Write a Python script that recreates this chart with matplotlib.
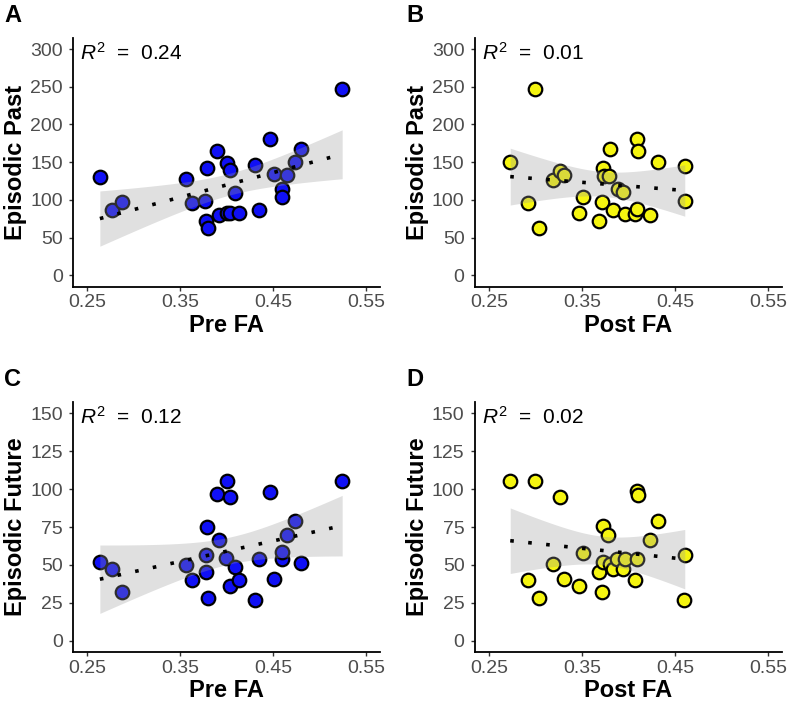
import numpy as np
import matplotlib
matplotlib.use('Agg')
import matplotlib.pyplot as plt

plt.rcParams['font.family'] = ['Liberation Sans', 'DejaVu Sans']
plt.rcParams['mathtext.fontset'] = 'custom'
plt.rcParams['mathtext.rm'] = 'Liberation Sans'
plt.rcParams['mathtext.it'] = 'Liberation Sans:italic'

#---------------------------data---------------------------

pre_fa_past = [0.2636, 0.2768, 0.2879, 0.3564, 0.3625, 0.3775, 0.3804, 0.3786, 0.3771,
               0.3900, 0.3914, 0.4000, 0.4000, 0.4036, 0.4036, 0.4086, 0.4136, 0.4307,
               0.4343, 0.4471, 0.4511, 0.4593, 0.4600, 0.4650, 0.4736, 0.4804, 0.5243]
past_pre = [130.5, 86.3, 97.3, 127.4, 96.0, 72.1, 63.3, 142.5, 98.7,
            164.6, 79.6, 149.6, 82.3, 139.4, 83.2, 109.7, 82.3, 146.0,
            86.3, 181.0, 134.0, 114.6, 104.0, 132.7, 150.0, 168.0, 247.0]

post_fa_past = [0.2729, 0.3000, 0.2918, 0.3036, 0.3186, 0.3264, 0.3311, 0.3507, 0.3464,
                0.3686, 0.3721, 0.3729, 0.3740, 0.3793, 0.3804, 0.3836, 0.3889, 0.3946,
                0.3961, 0.4068, 0.4089, 0.4096, 0.4107, 0.4229, 0.4321, 0.4607, 0.4607]
past_post = [150.0, 247.0, 96.5, 63.3, 127.0, 139.0, 133.6, 104.0, 82.7,
             72.1, 96.9, 142.5, 131.9, 132.3, 168.0, 87.2, 114.6, 110.2,
             81.9, 81.9, 87.6, 181.0, 164.6, 80.5, 150.9, 145.0, 98.2]

pre_fa_future = [0.2636, 0.2768, 0.2879, 0.3564, 0.3625, 0.3775, 0.3775, 0.3786, 0.3800,
                 0.3900, 0.3914, 0.3989, 0.4000, 0.4036, 0.4036, 0.4086, 0.4136, 0.4307,
                 0.4343, 0.4471, 0.4511, 0.4593, 0.4600, 0.4650, 0.4736, 0.4804, 0.5243]
future_pre = [51.8, 47.3, 32.1, 50.0, 40.3, 45.1, 56.6, 75.0, 27.9,
              96.5, 66.2, 54.4, 105.5, 95.1, 35.8, 48.5, 40.3, 27.0,
              54.2, 98.2, 40.7, 54.2, 58.8, 69.5, 79.0, 51.3, 105.5]

post_fa_future = [0.2729, 0.3000, 0.2918, 0.3036, 0.3264, 0.3186, 0.3304, 0.3471, 0.3507,
                  0.3686, 0.3721, 0.3729, 0.3782, 0.3732, 0.3804, 0.3836, 0.3882, 0.3946,
                  0.3961, 0.4068, 0.4089, 0.4096, 0.4107, 0.4229, 0.4321, 0.4607, 0.4600]
future_post = [105.3, 105.3, 39.8, 28.1, 95.1, 50.7, 40.9, 36.3, 58.0,
               45.4, 32.1, 75.7, 69.7, 52.0, 50.7, 47.3, 54.0, 47.6,
               54.2, 40.3, 54.0, 98.9, 96.0, 66.6, 78.8, 56.2, 27.0]

panel_letters = ['A', 'B', 'C', 'D']
r2_labels = ['0.24', '0.01', '0.12', '0.02']
x_titles = ['Pre FA', 'Post FA', 'Pre FA', 'Post FA']
y_titles = ['Episodic Past', 'Episodic Past', 'Episodic Future', 'Episodic Future']
x_ticks = [0.25, 0.35, 0.45, 0.55]
y_ticks_past = [0, 50, 100, 150, 200, 250, 300]
y_ticks_future = [0, 25, 50, 75, 100, 125, 150]

#---------------------------linear fit with 95% band----------------------------

def lm_band(x, y, t975=2.0595):     # t quantile for n-2 = 25 df
    x = np.asarray(x)
    y = np.asarray(y)
    n = len(x)
    b, a = np.polyfit(x, y, 1)
    xs = np.linspace(x.min(), x.max(), 80)
    res = y - (a + b * x)
    s2 = np.sum(res**2) / (n - 2)
    sxx = np.sum((x - x.mean())**2)
    se = np.sqrt(s2 * (1.0 / n + (xs - x.mean())**2 / sxx))
    fit = a + b * xs
    return xs, fit, fit - t975 * se, fit + t975 * se

#---------------------------figure----------------------------------------------

W, H = 789, 706
fig = plt.figure(figsize=(W / 100, H / 100), dpi=100)

lefts = [73.3, 475.0, 73.3, 475.0]
tops = [37.7, 37.7, 402.0, 402.0]
bottoms = [286.7, 286.7, 652.0, 652.0]
ax_w = 306.7

xs_all = [pre_fa_past, post_fa_past, pre_fa_future, post_fa_future]
ys_all = [past_pre, past_post, future_pre, future_post]
fills = ['#1010F5', '#F5F510', '#1010F5', '#F5F510']

for i in range(4):
    ax = fig.add_axes([lefts[i] / W, (H - bottoms[i]) / H, ax_w / W, (bottoms[i] - tops[i]) / H])
    x = xs_all[i]
    y = ys_all[i]

    ax.scatter(x, y, s=95, c=fills[i], edgecolors='black', linewidths=1.6, zorder=2)

    xs, fit, lo, hi = lm_band(x, y)
    ax.fill_between(xs, lo, hi, color='#999999', alpha=0.3, linewidth=0, zorder=3)
    ax.plot(xs, fit, color='black', linewidth=2.6, linestyle=(0, (1, 4)),
            dash_capstyle='butt', zorder=4)

    ax.set_xlim(0.235, 0.565)
    ax.set_xticks(x_ticks)
    ax.set_xticklabels(['0.25', '0.35', '0.45', '0.55'])
    if i < 2:
        ax.set_ylim(-15, 315)
        ax.set_yticks(y_ticks_past)
    else:
        ax.set_ylim(-7.5, 157.5)
        ax.set_yticks(y_ticks_future)

    for side in ['top', 'right']:
        ax.spines[side].set_visible(False)
    for side in ['left', 'bottom']:
        ax.spines[side].set_linewidth(1.3)
        ax.spines[side].set_color('black')
    ax.tick_params(axis='both', length=3, width=1.0, color='#333333',
                   labelcolor='#4D4D4D', labelsize=14)
    ax.tick_params(axis='x', pad=2.5)
    ax.tick_params(axis='y', pad=4.5)

    ax.set_xlabel(x_titles[i], fontsize=17, fontweight='bold', labelpad=2)
    ax.set_ylabel(y_titles[i], fontsize=17, fontweight='bold', labelpad=2)

    ax.text(0.022, 0.985, r'$R^2$  =  ' + r2_labels[i], transform=ax.transAxes,
            fontsize=15, ha='left', va='top')

    fig.text((lefts[i] - 69) / W, 1 - (tops[i] - 34) / H, panel_letters[i],
             fontsize=17, fontweight='bold', ha='left', va='top')

fig.savefig('out.png', dpi=100)
